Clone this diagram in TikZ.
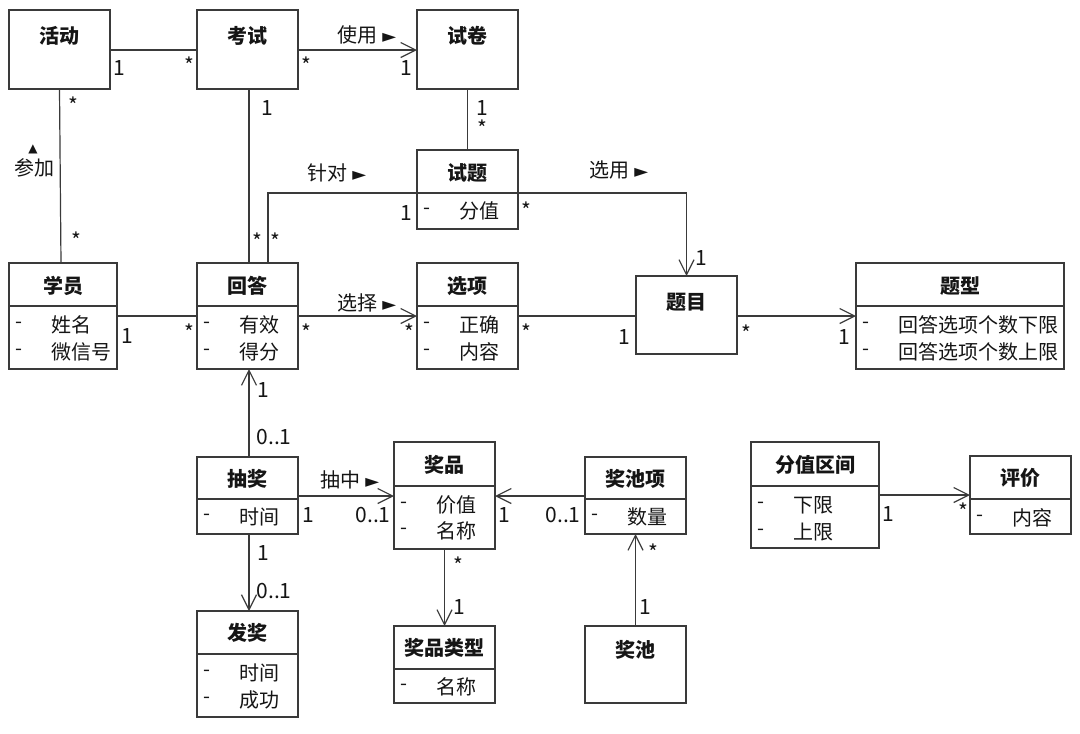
\documentclass[tikz,border=0pt]{standalone}
\usepackage{fontspec}
\setmainfont{Noto Sans CJK SC}
\newfontfamily\symf{DejaVu Sans}
\usetikzlibrary{arrows.meta}
\definecolor{lc}{HTML}{3A3A3A}
\definecolor{tc}{HTML}{151515}
\tikzset{
  box/.style={draw=lc,line width=1.3pt,inner sep=0pt,outer sep=0pt,anchor=north west,fill=white},
  bline/.style={draw=lc,line width=1.3pt},
  ttl/.style={inner sep=0pt,text=tc,font=\fontsize{20}{24}\selectfont\bfseries},
  att/.style={inner sep=0pt,anchor=west,text=tc},
  lab/.style={inner sep=0pt,text=tc,font=\fontsize{21}{24}\selectfont},
  conn/.style={draw=lc,line width=1.2pt},
  arr/.style={conn,-{Straight Barb[length=15pt,width=15pt]}},
}
\newcommand\ubox[5]{\node[box,minimum width=#4pt,minimum height=#5pt] (#1) at (#2,#3) {};}
\newcommand\udiv[2]{\draw[bline] (#1.west |- 0,#2) -- (#1.east |- 0,#2);}
\newcommand\uttl[3]{\node[ttl] (#1-t) at (#1.north |- 0,#2) {#3};}
\newcommand\uattr[4]{%
  \node[att] (#1-d#2) at ([xshift=6pt]#1.west |- 0,#3) {-};
  \node[att] (#1-a#2) at ([xshift=42pt]#1.west |- 0,#3) {#4};}
\newcommand\tri[1]{{\symf\fontsize{18}{18}\selectfont #1}}
\newcommand\utri[1]{{\symf\fontsize{12}{12}\selectfont #1}}
\begin{document}
\begin{tikzpicture}[x=1pt,y=-1pt,font=\fontsize{20}{24}\selectfont]
\useasboundingbox[fill=white] (0,0) rectangle (1080,734);
% ---------- boxes ----------
\ubox{huodong}{9}{10}{101}{79}
\uttl{huodong}{36}{活动}
\ubox{kaoshi}{197}{10}{101}{79}
\uttl{kaoshi}{36}{考试}
\ubox{shijuan}{417}{10}{101}{79}
\uttl{shijuan}{36}{试卷}
\ubox{shiti}{417}{150}{101}{79}
\udiv{shiti}{193}
\uttl{shiti}{173}{试题}
\uattr{shiti}{1}{211}{分值}
\ubox{xueyuan}{9}{263}{108}{106}
\udiv{xueyuan}{306}
\uttl{xueyuan}{286}{学员}
\uattr{xueyuan}{1}{325}{姓名}
\uattr{xueyuan}{2}{352}{微信号}
\ubox{huida}{197}{263}{101}{106}
\udiv{huida}{306}
\uttl{huida}{286}{回答}
\uattr{huida}{1}{325}{有效}
\uattr{huida}{2}{352}{得分}
\ubox{xuanxiang}{417}{263}{101}{106}
\udiv{xuanxiang}{306}
\uttl{xuanxiang}{286}{选项}
\uattr{xuanxiang}{1}{325}{正确}
\uattr{xuanxiang}{2}{352}{内容}
\ubox{timu}{636}{276}{101}{78}
\uttl{timu}{302}{题目}
\ubox{tixing}{856}{263}{208}{106}
\udiv{tixing}{306}
\uttl{tixing}{286}{题型}
\uattr{tixing}{1}{325}{回答选项个数下限}
\uattr{tixing}{2}{352}{回答选项个数上限}
\ubox{choujiang}{197}{457}{101}{77}
\udiv{choujiang}{499}
\uttl{choujiang}{479}{抽奖}
\uattr{choujiang}{1}{517}{时间}
\ubox{jiangpin}{394}{442}{101}{107}
\udiv{jiangpin}{486}
\uttl{jiangpin}{465}{奖品}
\uattr{jiangpin}{1}{505}{价值}
\uattr{jiangpin}{2}{531}{名称}
\ubox{jcx}{585}{457}{101}{77}
\udiv{jcx}{499}
\uttl{jcx}{479}{奖池项}
\uattr{jcx}{1}{517}{数量}
\ubox{jplx}{394}{626}{101}{77}
\udiv{jplx}{669}
\uttl{jplx}{648}{奖品类型}
\uattr{jplx}{1}{687}{名称}
\ubox{jiangchi}{585}{626}{101}{77}
\uttl{jiangchi}{650}{奖池}
\ubox{fajiang}{197}{611}{101}{106}
\udiv{fajiang}{654}
\uttl{fajiang}{633}{发奖}
\uattr{fajiang}{1}{673}{时间}
\uattr{fajiang}{2}{700}{成功}
\ubox{fzqj}{751}{442}{128}{106}
\udiv{fzqj}{486}
\uttl{fzqj}{465}{分值区间}
\uattr{fzqj}{1}{505}{下限}
\uattr{fzqj}{2}{532}{上限}
\ubox{pingjia}{970}{456}{101}{78}
\udiv{pingjia}{499}
\uttl{pingjia}{478}{评价}
\uattr{pingjia}{1}{518}{内容}
% ---------- connectors ----------
\draw[conn] (huodong.east |- 0,50) -- (kaoshi.west |- 0,50);
\node[lab] (m1) at (119,68) {1};
\node[lab] (m2) at (189,65) {*};
\draw[arr] (kaoshi.east |- 0,50) -- (shijuan.west |- 0,50);
\node[lab,font=\fontsize{20}{24}\selectfont] (n1) at (367,35) {使用 \tri{►}};
\node[lab] (m3) at (306,65) {*};
\node[lab] (m4) at (406,68) {1};
\draw[conn] (shijuan.south) -- (shiti.north);
\node[lab] (m5) at (482,108) {1};
\node[lab] (m6) at (482,128) {*};
\draw[conn] (huodong.south) -- ([xshift=-2pt]xueyuan.north);
\node[lab] (m7) at (73,105) {*};
\node[lab] (m8) at (76,240) {*};
\node[lab] (n2a) at (33,149) {\utri{▲}};
\node[lab,font=\fontsize{20}{24}\selectfont] (n2) at (34,168) {参加};
\draw[conn] (kaoshi.south -| 249,0) -- (huida.north -| 249,0);
\node[lab] (m9) at (267,108) {1};
\node[lab] (m10) at (257,241) {*};
\draw[conn] (huida.north -| 268,0) |- (shiti.west |- 0,193);
\node[lab] (m11) at (275,241) {*};
\node[lab] (m12) at (406,213) {1};
\node[lab,font=\fontsize{20}{24}\selectfont] (n3) at (337,173) {针对 \tri{►}};
\draw[arr] (shiti.east |- 0,193) -| (timu.north);
\node[lab] (m13) at (526,210) {*};
\node[lab] (m14) at (701,258) {1};
\node[lab,font=\fontsize{20}{24}\selectfont] (n4) at (619,170) {选用 \tri{►}};
\draw[conn] (xueyuan.east |- 0,316) -- (huida.west |- 0,316);
\node[lab] (m15) at (127,336) {1};
\node[lab] (m16) at (189,332) {*};
\draw[arr] (huida.east |- 0,316) -- (xuanxiang.west |- 0,316);
\node[lab,font=\fontsize{20}{24}\selectfont] (n5) at (367,303) {选择 \tri{►}};
\node[lab] (m17) at (306,332) {*};
\node[lab] (m18) at (409,332) {*};
\draw[conn] (xuanxiang.east |- 0,316) -- (timu.west |- 0,316);
\node[lab] (m19) at (526,332) {*};
\node[lab] (m20) at (624,337) {1};
\draw[arr] (timu.east |- 0,316) -- (tixing.west |- 0,316);
\node[lab] (m21) at (746,333) {*};
\node[lab] (m22) at (844,337) {1};
\draw[arr] (choujiang.north -| 249,0) -- (huida.south -| 249,0);
\node[lab] (m23) at (263,390) {1};
\node[lab] (m24) at (274,437) {0..1};
\draw[arr] (choujiang.east |- 0,496) -- (jiangpin.west |- 0,496);
\node[lab,font=\fontsize{20}{24}\selectfont] (n6) at (350,480) {抽中 \tri{►}};
\node[lab] (m25) at (308,515) {1};
\node[lab] (m26) at (373,515) {0..1};
\draw[arr] (jcx.west |- 0,496) -- (jiangpin.east |- 0,496);
\node[lab] (m27) at (504,515) {1};
\node[lab] (m28) at (563,515) {0..1};
\draw[arr] (choujiang.south -| 249,0) -- (fajiang.north -| 249,0);
\node[lab] (m29) at (263,553) {1};
\node[lab] (m30) at (274,591) {0..1};
\draw[arr] (jiangpin.south) -- (jplx.north);
\node[lab] (m31) at (458,565) {*};
\node[lab] (m32) at (459,607) {1};
\draw[arr] (jiangchi.north) -- (jcx.south);
\node[lab] (m33) at (653,552) {*};
\node[lab] (m34) at (645,607) {1};
\draw[arr] (fzqj.east |- 0,495) -- (pingjia.west |- 0,495);
\node[lab] (m35) at (888,514) {1};
\node[lab] (m36) at (963,511) {*};
\end{tikzpicture}
\end{document}
